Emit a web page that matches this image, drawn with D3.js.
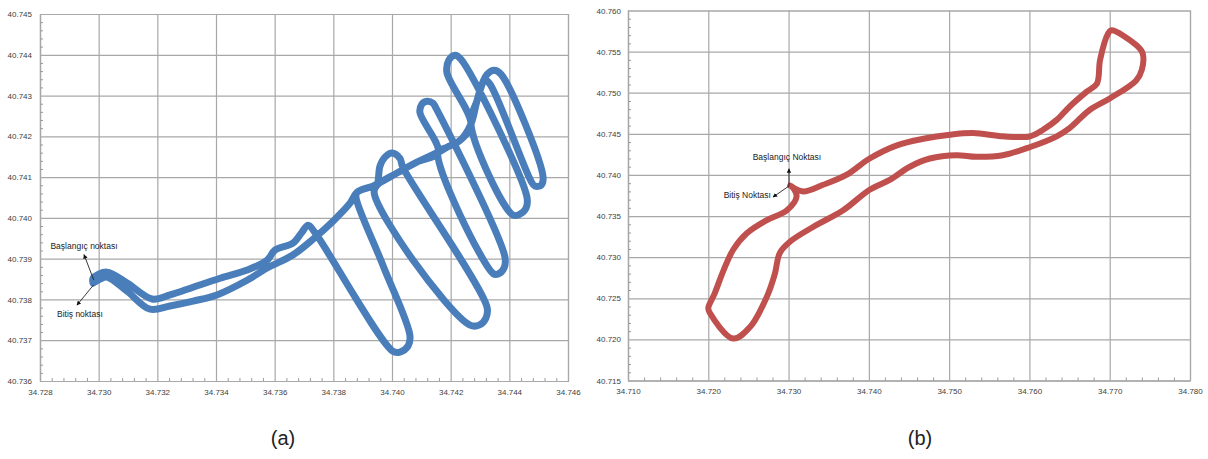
<!DOCTYPE html>
<html lang="en">
<head>
<meta charset="utf-8">
<title>GPS routes</title>
<script src="https://cdn.jsdelivr.net/npm/d3@7"></script>
<style>
  body { margin: 0; background: #fff; }
  .tick text { font-family: "Liberation Sans Narrow", "Arial Narrow", "Liberation Sans", Arial, sans-serif; font-size: 8px; fill: #404040; }
  .grid line { stroke: #a8a8a8; stroke-width: 1.2; }
  .grid path { stroke: #a8a8a8; stroke-width: 1.2; }
  .minor line { stroke: #9a9a9a; }
  .minor path { display: none; }
  .note { font-family: "Liberation Sans", Arial, sans-serif; font-size: 8.5px; fill: #222; }
  .cap { font-family: "Liberation Sans", Arial, sans-serif; font-size: 20px; fill: #222; }
</style>
</head>
<body>
<div id="bod"></div>
<script>
// (a) route, [lon, lat]
let trackA = [
  [34.72981,40.73840],[34.73005,40.73850],[34.73028,40.73855],[34.73097,40.73820],[34.73175,40.73776],
  [34.73243,40.73784],[34.73322,40.73796],[34.73403,40.73811],[34.73506,40.73847],[34.73574,40.73877],
  [34.73662,40.73909],[34.73731,40.73948],[34.73799,40.73992],[34.73857,40.74036],
  [34.73881,40.74063],[34.73935,40.74078],[34.73949,40.74083],
  [34.73959,40.74127],[34.73976,40.74149],[34.74000,40.74159],[34.74027,40.74146],[34.74037,40.74124],
  [34.74324,40.73781],[34.74320,40.73754],[34.74297,40.73737],[34.74266,40.73737],[34.74072,40.73896],
  [34.73939,40.74063],[34.73949,40.74080],
  [34.74017,40.74110],[34.74085,40.74137],[34.74157,40.74161],
  [34.74095,40.74259],[34.74102,40.74279],[34.74119,40.74286],[34.74140,40.74281],[34.74150,40.74269],
  [34.74385,40.73904],[34.74382,40.73877],[34.74361,40.73862],[34.74344,40.73864],[34.74157,40.74161],
  [34.74187,40.74173],[34.74232,40.74190],[34.74269,40.74230],
  [34.74187,40.74357],[34.74194,40.74387],[34.74215,40.74399],[34.74235,40.74389],
  [34.74460,40.74051],[34.74457,40.74024],[34.74436,40.74009],[34.74412,40.74007],[34.74269,40.74230],
  [34.74290,40.74288],[34.74310,40.74333],
  [34.74324,40.74352],[34.74348,40.74362],[34.74372,40.74352],[34.74515,40.74100],[34.74508,40.74080],
  [34.74487,40.74078],[34.74474,40.74090],[34.74334,40.74328],[34.74317,40.74338],
  [34.74310,40.74333],[34.74290,40.74288],[34.74269,40.74230],[34.74232,40.74190],[34.74187,40.74173],
  [34.74157,40.74161],[34.74085,40.74137],[34.74017,40.74110],[34.73935,40.74078],[34.73881,40.74063],
  [34.73877,40.74051],[34.73969,40.73884],[34.74061,40.73712],[34.74055,40.73686],[34.74027,40.73671],
  [34.74003,40.73673],[34.73741,40.73960],[34.73714,40.73982],
  [34.73693,40.73965],[34.73662,40.73938],[34.73601,40.73921],[34.73574,40.73896],[34.73506,40.73872],
  [34.73414,40.73852],[34.73322,40.73830],[34.73243,40.73811],[34.73182,40.73801],[34.73097,40.73840],
  [34.73028,40.73867],[34.72981,40.73852],[34.72981,40.73840]
];

// (b) route, [lon, lat]
let trackB = [
  [34.7302,40.7387],[34.7318,40.7380],[34.7343,40.7388],[34.7372,40.7400],[34.7401,40.7420],
  [34.7435,40.7436],[34.7468,40.7444],[34.7501,40.7449],[34.7530,40.7451],[34.7567,40.7447],
  [34.7601,40.7447],[34.7617,40.7455],[34.7634,40.7467],[34.7650,40.7483],[34.7671,40.7501],
  [34.7684,40.7511],[34.7688,40.7540],[34.7698,40.7572],[34.7702,40.7576],[34.7733,40.7558],
  [34.7741,40.7548],[34.7740,40.7528],[34.7733,40.7515],[34.7700,40.7493],[34.7675,40.7479],
  [34.7650,40.7457],[34.7634,40.7447],[34.7601,40.7434],[34.7567,40.7424],[34.7534,40.7422],
  [34.7509,40.7424],[34.7476,40.7420],[34.7451,40.7410],[34.7426,40.7394],[34.7401,40.7382],
  [34.7368,40.7357],[34.7331,40.7337],[34.7302,40.7319],[34.7289,40.7305],[34.7283,40.7280],
  [34.7273,40.7252],[34.7252,40.7215],[34.7231,40.7201],[34.7202,40.7232],[34.7200,40.7238],
  [34.7208,40.7256],[34.7219,40.7284],[34.7231,40.7309],[34.7248,40.7329],[34.7273,40.7345],
  [34.7298,40.7357],[34.7310,40.7374],[34.7304,40.7386],[34.7302,40.7387]
];

let xTicksA = [34.728,34.730,34.732,34.734,34.736,34.738,34.740,34.742,34.744,34.746];
let yTicksA = [40.736,40.737,40.738,40.739,40.740,40.741,40.742,40.743,40.744,40.745];
let xTicksB = [34.710,34.720,34.730,34.740,34.750,34.760,34.770,34.780];
let yTicksB = [40.715,40.720,40.725,40.730,40.735,40.740,40.745,40.750,40.755,40.760];

// annotations: text, text pos, arrow tail, arrow tip
let notesA = [
  { label: "Başlangıç noktası", at: [34.72950,40.73930], from: [34.72983,40.73848], to: [34.72950,40.73910] },
  { label: "Bitiş noktası",     at: [34.72936,40.73765], from: [34.72983,40.73836], to: [34.72926,40.73786] }
];
let notesB = [
  { label: "Başlangıç Noktası", at: [34.72980,40.74215], from: [34.73005,40.73865], to: [34.73005,40.74075], anchor: "middle" },
  { label: "Bitiş Noktası",     at: [34.72780,40.73750], from: [34.73005,40.73865], to: [34.72806,40.73731], anchor: "end" }
];

let svg = d3.select("#bod").append("svg")
  .attr("width", 1208)
  .attr("height", 459);

svg.append("defs").append("marker")
  .attr("id", "head")
  .attr("viewBox", "0 0 10 10")
  .attr("refX", 9).attr("refY", 5)
  .attr("markerWidth", 5).attr("markerHeight", 5)
  .attr("orient", "auto")
  .append("path").attr("d", "M0,0L10,5L0,10z").attr("fill", "#111");

function minorTicks(major, n) {
  let out = [];
  for (let i = 0; i < major.length - 1; i++) {
    let step = (major[i + 1] - major[i]) / n;
    for (let k = 1; k < n; k++) out.push(major[i] + k * step);
  }
  return out;
}

function drawPanel(p) {
  let x = d3.scaleLinear().domain([p.xTicks[0], p.xTicks[p.xTicks.length - 1]]).range([p.left, p.right]);
  let y = d3.scaleLinear().domain([p.yTicks[0], p.yTicks[p.yTicks.length - 1]]).range([p.bottom, p.top]);
  let w = p.right - p.left, h = p.bottom - p.top;

  let g = svg.append("g");

  g.append("g").attr("class", "grid")
    .attr("transform", "translate(0," + p.bottom + ")")
    .call(d3.axisBottom(x).tickValues(p.xTicks).tickSize(-h).tickPadding(8).tickFormat(d3.format(".3f")));

  g.append("g").attr("class", "grid")
    .attr("transform", "translate(" + p.left + ",0)")
    .call(d3.axisLeft(y).tickValues(p.yTicks).tickSize(-w).tickPadding(p.ypad).tickFormat(d3.format(".3f")));

  g.append("g").attr("class", "minor")
    .attr("transform", "translate(0," + p.bottom + ")")
    .call(d3.axisBottom(x).tickValues(minorTicks(p.xTicks, p.nx)).tickSize(-3).tickFormat(""));

  g.append("g").attr("class", "minor")
    .attr("transform", "translate(" + p.left + ",0)")
    .call(d3.axisLeft(y).tickValues(minorTicks(p.yTicks, p.ny)).tickSize(-3).tickFormat(""));

  let line = d3.line()
    .x(function(d) { return x(d[0]); })
    .y(function(d) { return y(d[1]); })
    .curve(d3.curveCatmullRom.alpha(0.5));

  g.append("path")
    .datum(p.track)
    .attr("d", line)
    .attr("fill", "none")
    .attr("stroke", p.color)
    .attr("stroke-width", p.sw)
    .attr("stroke-linejoin", "round")
    .attr("stroke-linecap", "round");

  p.notes.forEach(function(n) {
    g.append("line")
      .attr("x1", x(n.from[0])).attr("y1", y(n.from[1]))
      .attr("x2", x(n.to[0])).attr("y2", y(n.to[1]))
      .attr("stroke", "#222").attr("stroke-width", 0.9)
      .attr("marker-end", "url(#head)");
    g.append("text").attr("class", "note")
      .attr("x", x(n.at[0])).attr("y", y(n.at[1]))
      .attr("dy", "0.35em")
      .attr("text-anchor", n.anchor || "middle")
      .text(n.label);
  });

  svg.append("text").attr("class", "cap")
    .attr("x", p.capX).attr("y", 445)
    .attr("text-anchor", "middle")
    .text(p.caption);
}

drawPanel({
  track: trackA, xTicks: xTicksA, yTicks: yTicksA, notes: notesA,
  left: 40, right: 568, top: 14, bottom: 381, ypad: 8, nx: 5, ny: 5,
  color: "#4a7ebb", sw: 7, caption: "(a)", capX: 283
});

drawPanel({
  track: trackB, xTicks: xTicksB, yTicks: yTicksB, notes: notesB,
  left: 628, right: 1190, top: 10.5, bottom: 380.5, ypad: 7, nx: 5, ny: 5,
  color: "#c0504d", sw: 6, caption: "(b)", capX: 920
});
</script>
</body>
</html>
